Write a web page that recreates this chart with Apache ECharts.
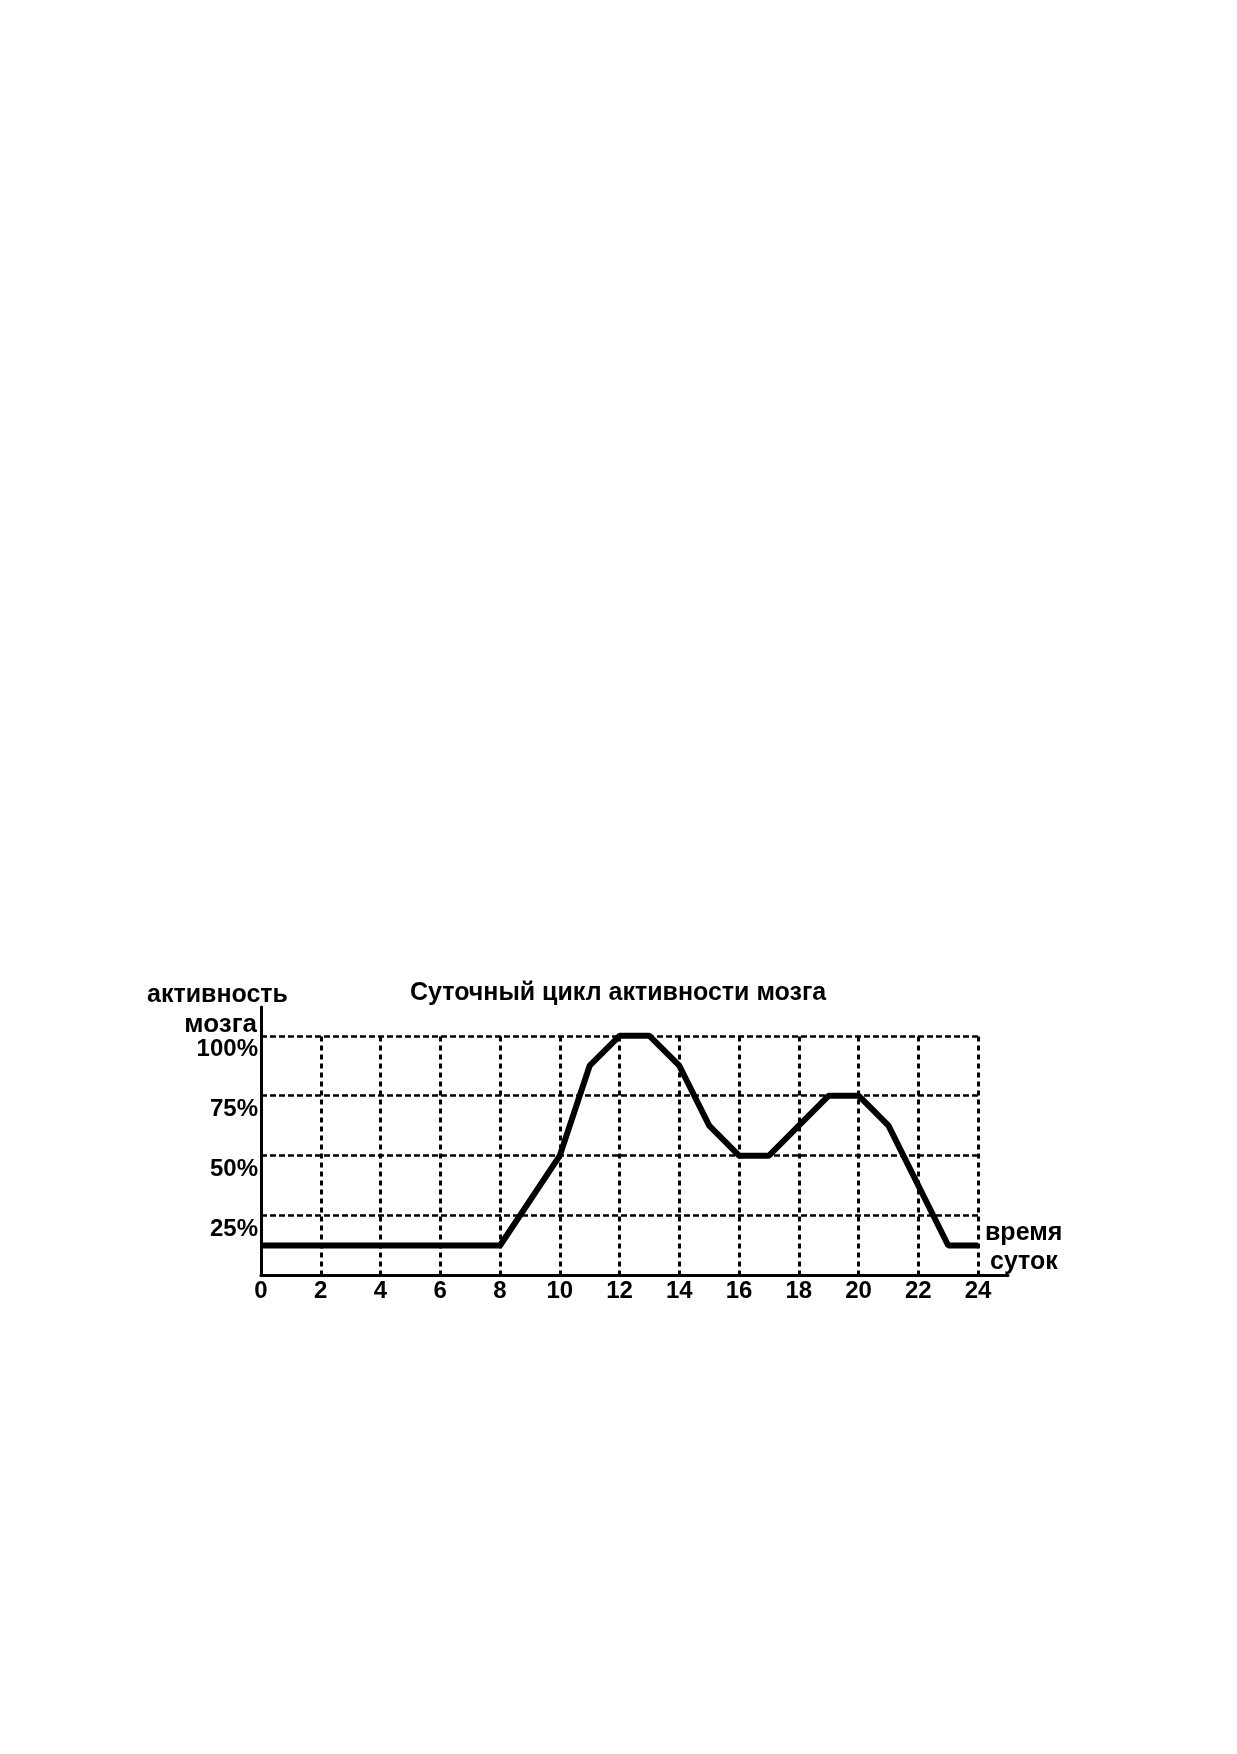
<!DOCTYPE html>
<html lang="ru">
<head>
    <meta charset="UTF-8">
    <title>Суточный цикл активности мозга</title>
    <script src="https://cdn.jsdelivr.net/npm/echarts@6/dist/echarts.min.js"></script>
    <style>
        html, body { margin: 0; padding: 0; background: #fff; }
        #main { width: 1237px; height: 1754px; }
    </style>
</head>
<body>
<div id="main"></div>

<script>
    // часы суток и активность мозга, %
    var hours    = [0, 8, 10, 11, 12, 13, 14, 15, 16, 17, 18, 19, 20, 21, 23, 24];
    var activity = [12.5, 12.5, 50, 87.5, 100, 100, 87.5, 62.5, 50, 50, 62.5, 75, 75, 62.5, 12.5, 12.5];

    // линии сетки и подписи осей
    var xTicks = [0, 2, 4, 6, 8, 10, 12, 14, 16, 18, 20, 22, 24];
    var xGridLines = [2, 4, 6, 8, 10, 12, 14, 16, 18, 20, 22, 24];
    var yGridLines = [25, 50, 75, 100];
    var yTickLabels = ['25%', '50%', '75%', '100%'];

    var FONT = '"Liberation Sans", Arial, sans-serif';

    var lineData = hours.map(function (h, i) {
        return [h, activity[i]];
    });

    // вертикальные пунктиры от оси до 100%
    var vLines = xGridLines.map(function (x) {
        return [{coord: [x, 0]}, {coord: [x, 100]}];
    });
    // горизонтальные пунктиры от 0 до 24 ч
    var hLines = yGridLines.map(function (y) {
        return [{coord: [0, y]}, {coord: [24, y]}];
    });

    var myChart = echarts.init(document.getElementById('main'), null, {renderer: 'canvas'});

    var option = {
        backgroundColor: '#ffffff',
        animation: false,
        grid: {
            left: 261,
            top: 1007,
            width: 747,
            height: 268.5
        },
        xAxis: {
            type: 'value',
            min: 0,
            max: 25,
            interval: 2,
            axisLine: {
                show: true,
                lineStyle: {color: '#000', width: 3}
            },
            axisTick: {show: false},
            splitLine: {show: false},
            axisLabel: {
                margin: 4,
                color: '#000',
                fontFamily: FONT,
                fontWeight: 'bold',
                fontSize: 24,
                formatter: function (v) {
                    return xTicks.indexOf(v) >= 0 ? String(v) : '';
                }
            }
        },
        yAxis: {
            type: 'value',
            min: 0,
            max: 112,
            interval: 25,
            axisLine: {
                show: true,
                lineStyle: {color: '#000', width: 3}
            },
            axisTick: {show: false},
            splitLine: {show: false},
            axisLabel: {
                margin: 3,
                color: '#000',
                fontFamily: FONT,
                fontWeight: 'bold',
                fontSize: 24,
                verticalAlign: 'top',
                padding: [2, 0, 0, 0],
                formatter: function (v) {
                    var k = yGridLines.indexOf(v);
                    return k >= 0 ? yTickLabels[k] : '';
                }
            }
        },
        graphic: [
            {
                type: 'text', x: 410, y: 993,
                style: {
                    text: 'Суточный цикл активности мозга',
                    fill: '#000', font: 'bold 25px ' + FONT,
                    textAlign: 'left', textVerticalAlign: 'middle'
                }
            },
            {
                type: 'text', x: 147, y: 995,
                style: {
                    text: 'активность',
                    fill: '#000', font: 'bold 25px ' + FONT,
                    textAlign: 'left', textVerticalAlign: 'middle'
                }
            },
            {
                type: 'text', x: 257, y: 1025,
                style: {
                    text: 'мозга',
                    fill: '#000', font: 'bold 26px ' + FONT,
                    textAlign: 'right', textVerticalAlign: 'middle'
                }
            },
            {
                type: 'text', x: 985, y: 1233,
                style: {
                    text: 'время',
                    fill: '#000', font: 'bold 25px ' + FONT,
                    textAlign: 'left', textVerticalAlign: 'middle'
                }
            },
            {
                type: 'text', x: 990, y: 1262,
                style: {
                    text: 'суток',
                    fill: '#000', font: 'bold 25px ' + FONT,
                    textAlign: 'left', textVerticalAlign: 'middle'
                }
            }
        ],
        series: [
            {
                name: 'vgrid',
                type: 'line',
                data: [],
                z: 1,
                silent: true,
                markLine: {
                    silent: true,
                    animation: false,
                    symbol: ['none', 'none'],
                    label: {show: false},
                    lineStyle: {color: '#000', width: 3, type: [5, 4]},
                    emphasis: {disabled: true},
                    data: vLines
                }
            },
            {
                name: 'hgrid',
                type: 'line',
                data: [],
                z: 1,
                silent: true,
                markLine: {
                    silent: true,
                    animation: false,
                    symbol: ['none', 'none'],
                    label: {show: false},
                    lineStyle: {color: '#000', width: 2.7, type: [6, 3]},
                    emphasis: {disabled: true},
                    data: hLines
                }
            },
            {
                name: 'активность',
                type: 'line',
                z: 5,
                data: lineData,
                showSymbol: false,
                symbol: 'none',
                clip: false,
                lineStyle: {color: '#000', width: 6},
                emphasis: {disabled: true}
            }
        ]
    };

    myChart.setOption(option);
</script>
</body>
</html>
